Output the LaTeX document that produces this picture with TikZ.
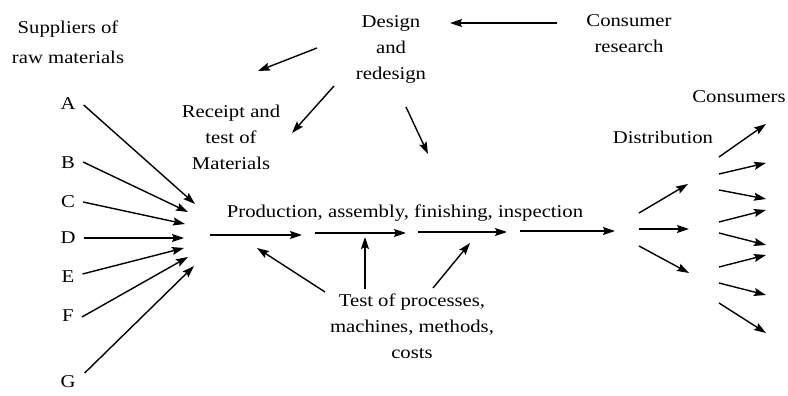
\documentclass[tikz,border=0pt]{standalone}
\usepackage{fontspec}
\setmainfont[FakeStretch=1.15]{Liberation Serif}
\usetikzlibrary{arrows.meta}
\begin{document}
\begin{tikzpicture}[x=1pt,y=-1pt,
  lbl/.style={inner sep=0pt, font=\fontsize{18}{26}\selectfont, align=center},
  arr/.style={line width=1.4pt, -{Stealth[length=12pt,width=8pt,inset=2pt]}}]
\fill[white] (0,0) rectangle (788,396);
\useasboundingbox (0,0) rectangle (788,396);
% texts
\node[lbl, font=\fontsize{18}{30}\selectfont] (sup) at (68,42) {Suppliers of\\raw materials};
\node[lbl] (A) at (68,104) {A};
\node[lbl] (B) at (68,163) {B};
\node[lbl] (C) at (68,202) {C};
\node[lbl] (D) at (68,238) {D};
\node[lbl] (E) at (68,277) {E};
\node[lbl] (F) at (68,316) {F};
\node[lbl] (G) at (68,382) {G};
\node[lbl] (des) at (391,49) {Design\\and\\redesign};
\node[lbl] (cr) at (629,34) {Consumer\\research};
\node[lbl] (rec) at (231,137) {Receipt and\\test of\\Materials};
\node[lbl] (prod) at (405,213) {Production, assembly, finishing, inspection};
\node[lbl] (test) at (412,326) {Test of processes,\\machines, methods,\\costs};
\node[lbl] (dist) at (663,137) {Distribution};
\node[lbl] (cons) at (739,97) {Consumers};
% free ends
\coordinate (hA) at (195,204);
\coordinate (hB) at (188,212);
\coordinate (hC) at (185,224);
\coordinate (hD) at (184,238);
\coordinate (hE) at (184,248);
\coordinate (hF) at (188,257);
\coordinate (hG) at (194,266);
\draw[arr] (A.east)++(8,1) coordinate (sA) (sA) -- (hA);
\draw[arr] (B.east)++(8,-1) coordinate (sB) (sB) -- (hB);
\draw[arr] (C.east)++(8,0) coordinate (sC) (sC) -- (hC);
\draw[arr] (D.east)++(8,0) coordinate (sD) (sD) -- (hD);
\draw[arr] (E.east)++(8,-3) coordinate (sE) (sE) -- (hE);
\draw[arr] (F.east)++(8,1) coordinate (sF) (sF) -- (hF);
\draw[arr] (G.east)++(9,-9) coordinate (sG) (sG) -- (hG);
% main line
\coordinate (m1) at (210,235); \coordinate (m2) at (302,235);
\coordinate (m3) at (315,233); \coordinate (m4) at (406,233);
\coordinate (m5) at (418,232); \coordinate (m6) at (507,232);
\coordinate (m7) at (520,231); \coordinate (m8) at (615,231);
\draw[arr] (m1) -- (m2);
\draw[arr] (m3) -- (m4);
\draw[arr] (m5) -- (m6);
\draw[arr] (m7) -- (m8);
% design arrows
\coordinate (crs) at (557,23); \coordinate (cre) at (450,23);
\draw[arr] (crs) -- (cre);
\coordinate (d1s) at (317,48); \coordinate (d1e) at (258,71);
\draw[arr] (d1s) -- (d1e);
\coordinate (d2s) at (334,86); \coordinate (d2e) at (292,133);
\draw[arr] (d2s) -- (d2e);
\coordinate (d3s) at (406,107); \coordinate (d3e) at (428,154);
\draw[arr] (d3s) -- (d3e);
% test arrows
\coordinate (t1s) at (325,292); \coordinate (t1e) at (257,248);
\draw[arr] (t1s) -- (t1e);
\coordinate (t2s) at (365,289); \coordinate (t2e) at (365,237);
\draw[arr] (t2s) -- (t2e);
\coordinate (t3s) at (433,288); \coordinate (t3e) at (470,243);
\draw[arr] (t3s) -- (t3e);
% distribution
\coordinate (ds1) at (639,213); \coordinate (de1) at (688,184);
\coordinate (ds2) at (639,229); \coordinate (de2) at (689,229);
\coordinate (ds3) at (639,246); \coordinate (de3) at (689,273);
\draw[arr] (ds1) -- (de1);
\draw[arr] (ds2) -- (de2);
\draw[arr] (ds3) -- (de3);
% consumers
\foreach \i/\ya/\yb in {1/157/124, 2/174/163, 3/190/199, 4/222/210, 5/233/245, 6/267/255, 7/283/295, 8/303/333}{
  \coordinate (cs\i) at (719,\ya); \coordinate (ce\i) at (766,\yb);
  \draw[arr] (cs\i) -- (ce\i);
}
\end{tikzpicture}
\end{document}
